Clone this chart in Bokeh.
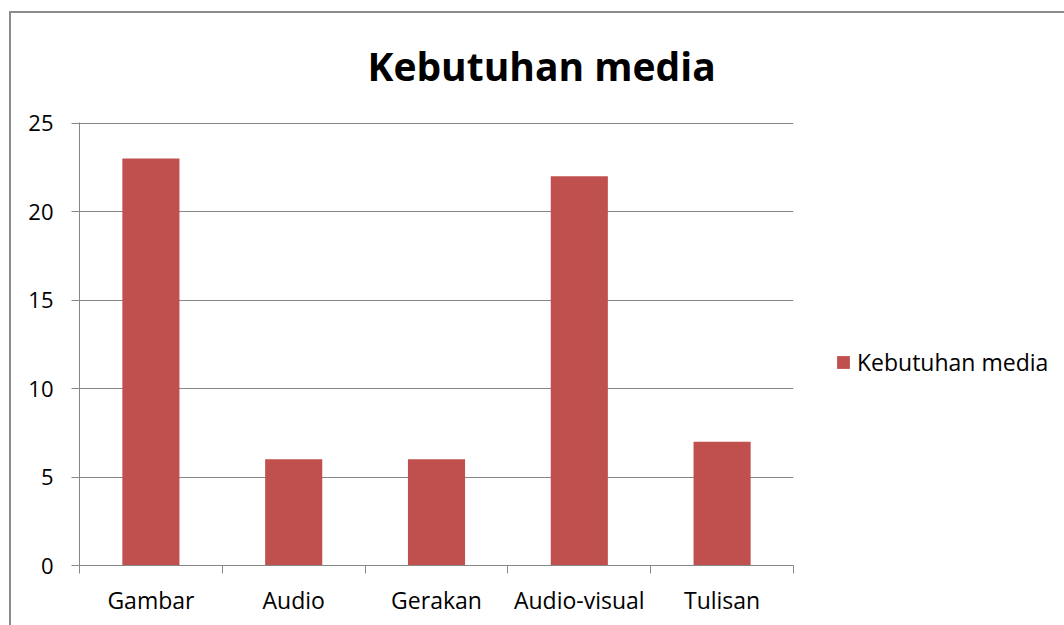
from bokeh.plotting import figure
from bokeh.models import (ColumnDataSource, FixedTicker, Range1d, Legend, LegendItem)
from bokeh.embed import file_html
from bokeh.resources import INLINE

categories = ["Gambar", "Audio", "Gerakan", "Audio-visual", "Tulisan"]
values = [23, 6, 6, 22, 7]
y_ticks = [0, 5, 10, 15, 20, 25]
series_name = "Kebutuhan media"
title_text = "Kebutuhan media"

BAR = "#C0504D"
GRID = "#868686"
FONT = "Open Sans"

centers = [i + 0.5 for i in range(len(categories))]
bounds = list(range(len(categories) + 1))

src = ColumnDataSource(dict(x=centers, top=values, cat=categories))

p = figure(frame_width=714, frame_height=443, output_backend="svg", toolbar_location=None,
           x_range=Range1d(0, len(categories)), y_range=Range1d(0, 25.04),
           min_border_left=79, min_border_right=271, min_border_top=122,
           min_border_bottom=60, background_fill_color="white",
           border_fill_alpha=0, title=title_text)
p.outline_line_color = None
p.styles = {
    "background": ("linear-gradient(#8C8C8C,#8C8C8C) 9px 11px / 2px 1000px no-repeat, "
                   "linear-gradient(#8C8C8C,#8C8C8C) 9px 11px / 2000px 2px no-repeat, white"),
}

p.title.align = "left"
p.title.offset = 288
p.title.text_font = FONT
p.title.text_font_style = "bold"
p.title.text_font_size = "39px"
p.title.text_color = "black"
p.title.standoff = 61

r = p.vbar(x="x", top="top", width=0.4, source=src, fill_color=BAR, line_color=None)

# x axis: labels at centres, tick marks at category boundaries
p.xaxis.ticker = FixedTicker(ticks=centers, minor_ticks=bounds)
p.xaxis.major_label_overrides = {c: n for c, n in zip(centers, categories)}
p.xaxis.major_tick_in = 0
p.xaxis.major_tick_out = 0
p.xaxis.minor_tick_in = 0
p.xaxis.minor_tick_out = 8
p.xaxis.minor_tick_line_color = GRID
p.xaxis.axis_line_color = GRID
p.xaxis.major_label_text_font = FONT
p.xaxis.major_label_text_font_size = "23px"
p.xaxis.major_label_text_color = "black"
p.xaxis.major_label_standoff = 10

p.yaxis.ticker = FixedTicker(ticks=y_ticks, minor_ticks=[])
p.yaxis.major_tick_in = 0
p.yaxis.major_tick_out = 8
p.yaxis.major_tick_line_color = GRID
p.yaxis.axis_line_color = GRID
p.yaxis.major_label_text_font = FONT
p.yaxis.major_label_text_font_size = "22px"
p.yaxis.major_label_text_color = "black"
p.yaxis.major_label_standoff = 18

p.xgrid.grid_line_color = None
p.ygrid.ticker = FixedTicker(ticks=y_ticks)
p.ygrid.grid_line_color = GRID
p.ygrid.grid_line_width = 1

legend = Legend(items=[LegendItem(label=series_name, renderers=[r])],
                location=(42, 187), padding=0, margin=0,
                border_line_color=None, background_fill_alpha=0,
                glyph_width=16, glyph_height=16, label_standoff=6,
                label_text_font=FONT, label_text_font_size="23px",
                label_text_color="black", label_height=16)
p.add_layout(legend, "right")

open("out.html", "w").write(file_html(p, INLINE))
